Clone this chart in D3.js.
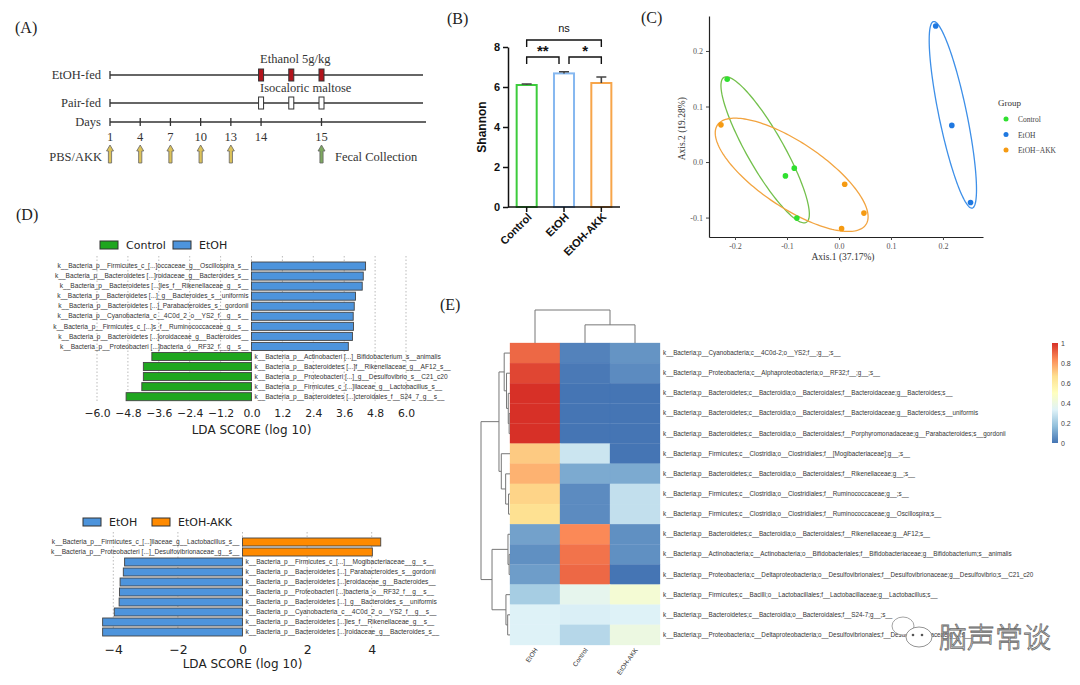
<!DOCTYPE html>
<html>
<head>
<meta charset="utf-8">
<script src="https://cdn.jsdelivr.net/npm/d3@7"></script>
<style>
    body { margin: 0; background: #fff; }
    svg { display: block; }
</style>
</head>
<body>
<div id="container"></div>
<script>
// ---------- data ----------
// (A) timeline
const daySlots = ['1', '4', '7', '10', '13', '14', '', '15'];
const doseSlots = [5, 6, 7];
const pbsSlots = [0, 1, 2, 3, 4];
const fecalSlot = 7;

// (B) shannon
const groups = ['Control', 'EtOH', 'EtOH-AKK'];
const shannonMean = [6.1, 6.68, 6.2];
const shannonErr = [0.05, 0.08, 0.3];
// [from, to, label, bracket level]
const sigTests = [[0, 2, 'ns', 8.35], [0, 1, '**', 7.5], [1, 2, '*', 7.5]];

// (C) PCoA
const pcoaGroup = ['Control', 'Control', 'Control', 'Control', 'EtOH', 'EtOH', 'EtOH', 'EtOH-AKK', 'EtOH-AKK', 'EtOH-AKK', 'EtOH-AKK'];
const pcoaX = [-0.215, -0.103, -0.086, -0.081, 0.186, 0.217, 0.253, -0.227, 0.011, 0.048, 0.005];
const pcoaY = [0.149, -0.025, -0.011, -0.101, 0.245, 0.066, -0.073, 0.067, -0.040, -0.092, -0.120];
const ellCx = [-0.142, 0.219, -0.091];
const ellCy = [0.022, 0.085, -0.023];
const ellHx = [0.085, 0.0455, 0.147];
const ellHy = [0.1315, 0.168, 0.102];
const ellRho = [-0.88, -0.80, -0.74];

// (D) LEfSe, top: Control vs EtOH
const ldaTopLabels = [
    'k__Bacteria_p__Firmicutes_c_[...]occaceae_g__Oscillospira_s__',
    'k__Bacteria_p__Bacteroidetes [...]roidaceae_g__Bacteroides_s__',
    'k__Bacteria_p__Bacteroidetes [...]les_f__Rikenellaceae_g__s__',
    'k__Bacteria_p__Bacteroidetes [...]_g__Bacteroides_s__uniformis',
    'k__Bacteria_p__Bacteroidetes [...]_Parabacteroides_s__gordonii',
    'k__Bacteria_p__Cyanobacteria_c__4C0d_2_o__YS2_f__g__s__',
    'k__Bacteria_p__Firmicutes_c_[...]s_f__Ruminococcaceae_g__s__',
    'k__Bacteria_p__Bacteroidetes [...]oroidaceae_g__Bacteroides__',
    'k__Bacteria_p__Proteobacteri [...]bacteria_o__RF32_f__g__s__',
    'k__Bacteria_p__Actinobacteri [...]_Bifidobacterium_s__animalis',
    'k__Bacteria_p__Bacteroidetes [...]f__Rikenellaceae_g__AF12_s__',
    'k__Bacteria_p__Proteobacteri [...]_g__Desulfovibrio_s__C21_c20',
    'k__Bacteria_p__Firmicutes_c_[...]llaceae_g__Lactobacillus_s__',
    'k__Bacteria_p__Bacteroidetes [...]cteroidales_f__S24_7_g__s__'
];
const ldaTopScores = [4.43, 4.34, 4.30, 4.04, 3.99, 3.95, 3.96, 3.92, 3.76, -3.87, -4.20, -4.20, -4.26, -4.87];
const ldaTopGroups = ['Control', 'EtOH'];
const ldaTopTicks = [-6.0, -4.8, -3.6, -2.4, -1.2, 0.0, 1.2, 2.4, 3.6, 4.8, 6.0];

// (D) LEfSe, bottom: EtOH vs EtOH-AKK
const ldaBotLabels = [
    'k__Bacteria_p__Firmicutes_c_[...]llaceae_g__Lactobacillus_s__',
    'k__Bacteria_p__Proteobacteri [...]_Desulfovibrionaceae_g__s__',
    'k__Bacteria_p__Firmicutes_c_[...]__Mogibacteriaceae__g__s__',
    'k__Bacteria_p__Bacteroidetes [...]_Parabacteroides_s__gordonii',
    'k__Bacteria_p__Bacteroidetes [...]eroidaceae_g__Bacteroides__',
    'k__Bacteria_p__Proteobacteri [...]bacteria_o__RF32_f__g__s__',
    'k__Bacteria_p__Bacteroidetes [...]_g__Bacteroides_s__uniformis',
    'k__Bacteria_p__Cyanobacteria_c__4C0d_2_o__YS2_f__g__s__',
    'k__Bacteria_p__Bacteroidetes [...]les_f__Rikenellaceae_g__s__',
    'k__Bacteria_p__Bacteroidetes [...]roidaceae_g__Bacteroides_s__'
];
const ldaBotScores = [4.28, 4.02, -3.65, -3.69, -3.79, -3.81, -3.82, -3.97, -4.33, -4.33];
const ldaBotGroups = ['EtOH', 'EtOH-AKK'];
const ldaBotTicks = [-4, -2, 0, 2, 4];

// (E) heatmap
const heatCols = ['EtOH', 'Control', 'EtOH-AKK'];
const heatRows = [
    'k__Bacteria;p__Cyanobacteria;c__4C0d-2;o__YS2;f__;g__;s__',
    'k__Bacteria;p__Proteobacteria;c__Alphaproteobacteria;o__RF32;f__;g__;s__',
    'k__Bacteria;p__Bacteroidetes;c__Bacteroidia;o__Bacteroidales;f__Bacteroidaceae;g__Bacteroides;s__',
    'k__Bacteria;p__Bacteroidetes;c__Bacteroidia;o__Bacteroidales;f__Bacteroidaceae;g__Bacteroides;s__uniformis',
    'k__Bacteria;p__Bacteroidetes;c__Bacteroidia;o__Bacteroidales;f__Porphyromonadaceae;g__Parabacteroides;s__gordonii',
    'k__Bacteria;p__Firmicutes;c__Clostridia;o__Clostridiales;f__[Mogibacteriaceae];g__;s__',
    'k__Bacteria;p__Bacteroidetes;c__Bacteroidia;o__Bacteroidales;f__Rikenellaceae;g__;s__',
    'k__Bacteria;p__Firmicutes;c__Clostridia;o__Clostridiales;f__Ruminococcaceae;g__;s__',
    'k__Bacteria;p__Firmicutes;c__Clostridia;o__Clostridiales;f__Ruminococcaceae;g__Oscillospira;s__',
    'k__Bacteria;p__Bacteroidetes;c__Bacteroidia;o__Bacteroidales;f__Rikenellaceae;g__AF12;s__',
    'k__Bacteria;p__Actinobacteria;c__Actinobacteria;o__Bifidobacteriales;f__Bifidobacteriaceae;g__Bifidobacterium;s__animalis',
    'k__Bacteria;p__Proteobacteria;c__Deltaproteobacteria;o__Desulfovibrionales;f__Desulfovibrionaceae;g__Desulfovibrio;s__C21_c20',
    'k__Bacteria;p__Firmicutes;c__Bacilli;o__Lactobacillales;f__Lactobacillaceae;g__Lactobacillus;s__',
    'k__Bacteria;p__Bacteroidetes;c__Bacteroidia;o__Bacteroidales;f__S24-7;g__;s__',
    'k__Bacteria;p__Proteobacteria;c__Deltaproteobacteria;o__Desulfovibrionales;f__Desulfovibrionaceae;g__;s__'
];
const heatValues = [
    [0.90, 0.03, 0.07],
    [0.96, 0.01, 0.05],
    [1.00, 0.00, 0.00],
    [1.00, 0.00, 0.00],
    [1.00, 0.00, 0.00],
    [0.71, 0.29, 0.00],
    [0.76, 0.12, 0.12],
    [0.69, 0.05, 0.27],
    [0.66, 0.05, 0.27],
    [0.10, 0.84, 0.06],
    [0.06, 0.88, 0.06],
    [0.09, 0.90, 0.00],
    [0.21, 0.365, 0.44],
    [0.33, 0.32, 0.33],
    [0.33, 0.245, 0.40]
];
// [height, left, right]
const rowTree = [1.0,
    [0.38,
        [0.2, 0, [0.12, 1, [0.06, 2, [0.03, 3, 4]]]],
        [0.3, 5, [0.15, 6, [0.05, 7, 8]]]],
    [0.62,
        [0.07, 9, [0.03, 10, 11]],
        [0.14, 12, [0.08, 13, 14]]]];
const colTree = [1.0, 0, [0.55, 1, 2]];
const legendTicks = [0, 0.2, 0.4, 0.6, 0.8, 1];

// ---------- drawing ----------
const serif = '"Liberation Serif", "Times New Roman", serif';
const sans = '"Liberation Sans", Arial, sans-serif';
const dejavu = '"DejaVu Sans", sans-serif';

const svg = d3.select('#container')
    .append('svg')
    .attr('width', 1080)
    .attr('height', 685);

function panelLabel(txt, x, y) {
    svg.append('text')
        .attr('x', x).attr('y', y)
        .attr('font-family', serif)
        .attr('font-size', 16)
        .attr('fill', '#222')
        .text(txt);
}
panelLabel('(A)', 15, 33);
panelLabel('(B)', 447, 24);
panelLabel('(C)', 641, 23);
panelLabel('(D)', 16, 220);
panelLabel('(E)', 440, 310);

// ===== (A) =====
const gA = svg.append('g');
const slot = d3.scaleLinear().domain([0, 7]).range([110, 321.5]);
const txtA = (t, x, y, anchor) => gA.append('text')
    .attr('x', x).attr('y', y)
    .attr('text-anchor', anchor || 'start')
    .attr('font-family', serif)
    .attr('font-size', 12.5)
    .attr('fill', '#333')
    .text(t);

[{ name: 'EtOH-fed', y: 75, fill: '#b3141c' }, { name: 'Pair-fed', y: 103, fill: '#fff' }].forEach(r => {
    txtA(r.name, 101, r.y + 4, 'end');
    gA.append('line')
        .attr('x1', slot(0)).attr('x2', slot(10.36))
        .attr('y1', r.y).attr('y2', r.y)
        .attr('stroke', '#333').attr('stroke-width', 1.3);
    gA.append('line')
        .attr('x1', slot(0)).attr('x2', slot(0))
        .attr('y1', r.y - 4).attr('y2', r.y + 4)
        .attr('stroke', '#333').attr('stroke-width', 1.3);
    gA.selectAll(null)
        .data(doseSlots)
        .enter()
        .append('rect')
        .attr('x', d => slot(d) - 2.5)
        .attr('y', r.y - 6)
        .attr('width', 5)
        .attr('height', 12)
        .attr('fill', r.fill)
        .attr('stroke', '#333')
        .attr('stroke-width', 1);
});
txtA('Ethanol 5g/kg', slot(5) - 1, 63);
txtA('Isocaloric maltose', slot(5) - 1, 92);

// days axis
txtA('Days', 101, 126, 'end');
gA.append('line')
    .attr('x1', slot(0)).attr('x2', slot(10.46))
    .attr('y1', 122).attr('y2', 122)
    .attr('stroke', '#333').attr('stroke-width', 1.3);
daySlots.forEach((d, i) => {
    if (!d) return;
    gA.append('line')
        .attr('x1', slot(i)).attr('x2', slot(i))
        .attr('y1', 118).attr('y2', 126)
        .attr('stroke', '#333').attr('stroke-width', 1.3);
    txtA(d, slot(i), 141, 'middle');
});

// arrows
function arrow(x, fill) {
    const p = d3.path();
    p.moveTo(x, 145);
    p.lineTo(x + 3.5, 151);
    p.lineTo(x + 1.6, 151);
    p.lineTo(x + 1.6, 163);
    p.lineTo(x - 1.6, 163);
    p.lineTo(x - 1.6, 151);
    p.lineTo(x - 3.5, 151);
    p.closePath();
    gA.append('path')
        .attr('d', p.toString())
        .attr('fill', fill)
        .attr('stroke', '#666')
        .attr('stroke-width', 0.8);
}
pbsSlots.forEach(s => arrow(slot(s), '#dcc25a'));
arrow(slot(fecalSlot), '#7ea860');
txtA('PBS/AKK', 102, 161, 'end');
txtA('Fecal Collection', 335, 161);

// ===== (B) =====
const gB = svg.append('g');
const xB = d3.scaleBand().domain(groups).range([508, 620]).paddingInner(0.41).paddingOuter(0.205);
const yB = d3.scaleLinear().domain([0, 8]).range([207, 47]);
const colB = ['#3ccc3c', '#86b8f0', '#f7a54a'];

gB.selectAll('.bar')
    .data(groups)
    .enter()
    .append('rect')
    .attr('x', d => xB(d) + 1)
    .attr('y', (d, i) => yB(shannonMean[i]))
    .attr('width', xB.bandwidth() - 2)
    .attr('height', (d, i) => yB(0) - yB(shannonMean[i]))
    .attr('fill', '#fff')
    .attr('stroke', (d, i) => colB[i])
    .attr('stroke-width', 2);
groups.forEach((g, i) => {
    const cx = xB(g) + xB.bandwidth() / 2;
    gB.append('path')
        .attr('d', `M${cx},${yB(shannonMean[i])}V${yB(shannonMean[i] + shannonErr[i])}M${cx - 5},${yB(shannonMean[i] + shannonErr[i])}H${cx + 5}`)
        .attr('stroke', '#444')
        .attr('stroke-width', 1.6)
        .attr('fill', 'none');
});

const axB = gB.append('g')
    .attr('transform', 'translate(508,0)')
    .call(d3.axisLeft(yB).tickValues([0, 2, 4, 6, 8]).tickSize(5).tickSizeOuter(0));
axB.selectAll('text').attr('font-family', sans).attr('font-weight', 'bold').attr('font-size', 11).attr('fill', '#111');
axB.selectAll('line, path').attr('stroke', '#111').attr('stroke-width', 1.5);

const axBx = gB.append('g')
    .attr('transform', 'translate(0,207)')
    .call(d3.axisBottom(xB).tickSize(5).tickSizeOuter(0));
axBx.select('.domain').attr('d', 'M508,0H620');
axBx.selectAll('line, path').attr('stroke', '#111').attr('stroke-width', 1.5);
axBx.selectAll('text')
    .attr('font-family', sans).attr('font-weight', 'bold').attr('font-size', 11).attr('fill', '#111')
    .attr('text-anchor', 'end')
    .attr('transform', 'translate(3,8) rotate(-45)')
    .attr('dy', '0.35em').attr('y', 0);

gB.append('text')
    .attr('transform', `translate(486,${yB(4)}) rotate(-90)`)
    .attr('text-anchor', 'middle')
    .attr('font-family', sans).attr('font-weight', 'bold').attr('font-size', 12)
    .attr('fill', '#111')
    .text('Shannon');

sigTests.forEach(t => {
    const x1 = xB(groups[t[0]]) + xB.bandwidth() / 2 + (t[1] - t[0] === 1 && t[0] === 1 ? 5 : 0);
    const x2 = xB(groups[t[1]]) + xB.bandwidth() / 2 - (t[1] - t[0] === 1 && t[0] === 0 ? 5 : 0);
    const yb = yB(t[3]), yl = yB(t[3] - 0.35);
    gB.append('path')
        .attr('d', `M${x1},${yl}V${yb}H${x2}V${yl}`)
        .attr('fill', 'none').attr('stroke', '#111').attr('stroke-width', 1.4);
    const isNs = t[2] === 'ns';
    gB.append('text')
        .attr('x', (x1 + x2) / 2)
        .attr('y', isNs ? yb - 8 : yb - 1)
        .attr('text-anchor', 'middle')
        .attr('font-family', sans)
        .attr('font-weight', isNs ? 'normal' : 'bold')
        .attr('font-size', isNs ? 11 : 15)
        .attr('fill', '#111')
        .text(t[2]);
});

// ===== (C) =====
const gC = svg.append('g');
const xC = d3.scaleLinear().domain([-0.25, 0.277]).range([709, 983]);
const yC = d3.scaleLinear().domain([-0.135, 0.263]).range([237, 16]);
const cGroups = ['Control', 'EtOH', 'EtOH-AKK'];
const ptCol = d3.scaleOrdinal().domain(cGroups).range(['#2fe02f', '#1f78e0', '#f59a12']);
const ellCol = ['#73c04c', '#3d8fe8', '#f2a440'];
const fmtC = v => d3.format('.1f')(v).replace('−', '-');

const axCx = gC.append('g').attr('transform', 'translate(0,237)')
    .call(d3.axisBottom(xC).tickValues([-0.2, -0.1, 0, 0.1, 0.2]).tickFormat(fmtC).tickSize(3).tickSizeOuter(0));
const axCy = gC.append('g').attr('transform', 'translate(709,0)')
    .call(d3.axisLeft(yC).tickValues([-0.1, 0, 0.1, 0.2]).tickFormat(fmtC).tickSize(3).tickSizeOuter(0));
[axCx, axCy].forEach(a => {
    a.select('.domain').attr('stroke', '#222').attr('stroke-width', 1.2);
    a.selectAll('.tick line').attr('stroke', '#444');
    a.selectAll('text').attr('font-family', serif).attr('font-size', 8).attr('fill', '#555');
});
gC.append('text')
    .attr('x', 843).attr('y', 260)
    .attr('text-anchor', 'middle')
    .attr('font-family', serif).attr('font-size', 9.5).attr('fill', '#333')
    .text('Axis.1 (37.17%)');
gC.append('text')
    .attr('transform', `translate(685,${yC(0.06)}) rotate(-90)`)
    .attr('text-anchor', 'middle')
    .attr('font-family', serif).attr('font-size', 9.5).attr('fill', '#333')
    .text('Axis.2 (19.28%)');

// confidence ellipses (centre, half ranges, correlation)
const tt = d3.range(0, 2 * Math.PI + 0.01, Math.PI / 90);
const ellLine = d3.line().x(d => xC(d[0])).y(d => yC(d[1]));
cGroups.forEach((g, k) => {
    const th = Math.acos(ellRho[k]);
    const pts = tt.map(t => [ellCx[k] + ellHx[k] * Math.cos(t), ellCy[k] + ellHy[k] * Math.cos(t - th)]);
    gC.append('path')
        .attr('d', ellLine(pts))
        .attr('fill', 'none')
        .attr('stroke', ellCol[k])
        .attr('stroke-width', 1.3);
});
gC.selectAll('.pt')
    .data(pcoaX)
    .enter()
    .append('circle')
    .attr('cx', d => xC(d))
    .attr('cy', (d, i) => yC(pcoaY[i]))
    .attr('r', 2.8)
    .attr('fill', (d, i) => ptCol(pcoaGroup[i]));

gC.append('text')
    .attr('x', 998).attr('y', 106)
    .attr('font-family', serif).attr('font-size', 9).attr('fill', '#333')
    .text('Group');
cGroups.forEach((g, i) => {
    gC.append('circle')
        .attr('cx', 1006).attr('cy', 119 + i * 15.5)
        .attr('r', 2.5).attr('fill', ptCol(g));
    gC.append('text')
        .attr('x', 1018).attr('y', 122 + i * 15.5)
        .attr('font-family', serif).attr('font-size', 7.5).attr('fill', '#444')
        .text(g.replace('-', '\u2212'));
});

// ===== (D) =====
function ldaPanel(opt) {
    const g = svg.append('g');
    const x = d3.scaleLinear().domain(opt.domain).range(opt.range);
    const y = d3.scaleBand().domain(d3.range(opt.labels.length)).range(opt.yRange).paddingInner(0.2).paddingOuter(0.1);

    g.selectAll('.grid')
        .data(opt.ticks)
        .enter()
        .append('line')
        .attr('x1', d => x(d)).attr('x2', d => x(d))
        .attr('y1', opt.gridTop).attr('y2', opt.yRange[1])
        .attr('stroke', '#aaa')
        .attr('stroke-width', 0.8)
        .attr('stroke-dasharray', '1.5,2');

    g.selectAll('.bar')
        .data(opt.scores)
        .enter()
        .append('rect')
        .attr('x', d => x(Math.min(0, d)))
        .attr('y', (d, i) => y(i))
        .attr('width', d => Math.abs(x(d) - x(0)))
        .attr('height', y.bandwidth())
        .attr('fill', d => d < 0 ? opt.colors[0] : opt.colors[1])
        .attr('stroke', '#444')
        .attr('stroke-width', 0.9);

    g.selectAll('.lab')
        .data(opt.labels)
        .enter()
        .append('text')
        .attr('x', (d, i) => opt.scores[i] < 0 ? x(0) + 3 : x(0) - 3)
        .attr('y', (d, i) => y(i) + y.bandwidth() / 2 + 2.2)
        .attr('text-anchor', (d, i) => opt.scores[i] < 0 ? 'start' : 'end')
        .attr('font-family', sans)
        .attr('font-size', 6.6)
        .attr('fill', '#333')
        .text(d => d);

    const ax = g.append('g')
        .attr('transform', `translate(0,${opt.yRange[1]})`)
        .call(d3.axisBottom(x).tickValues(opt.ticks).tickFormat(opt.fmt).tickSize(0).tickPadding(opt.pad));
    ax.select('.domain').remove();
    ax.selectAll('text').attr('font-family', dejavu).attr('font-size', opt.tickSize).attr('fill', '#222');

    g.append('text')
        .attr('x', x(0)).attr('y', opt.titleY)
        .attr('text-anchor', 'middle')
        .attr('font-family', dejavu).attr('font-size', 12).attr('fill', '#222')
        .text('LDA SCORE (log 10)');

    opt.groups.forEach((name, i) => {
        g.append('rect')
            .attr('x', opt.legX[i]).attr('y', opt.legY - 4)
            .attr('width', 18).attr('height', 8)
            .attr('fill', opt.colors[i]).attr('stroke', '#333').attr('stroke-width', 1);
        g.append('text')
            .attr('x', opt.legX[i] + 26).attr('y', opt.legY + 4)
            .attr('font-family', dejavu).attr('font-size', 11).attr('fill', '#222')
            .text(name);
    });
}

ldaPanel({
    labels: ldaTopLabels, scores: ldaTopScores, groups: ldaTopGroups, ticks: ldaTopTicks,
    colors: ['#1fa61f', '#4d94dc'],
    domain: [-6, 6], range: [97, 406], yRange: [261, 401.7], gridTop: 256,
    fmt: d3.format('.1f'), pad: 8, tickSize: 10.8, titleY: 434,
    legX: [100, 173], legY: 245
});
ldaPanel({
    labels: ldaBotLabels, scores: ldaBotScores, groups: ldaBotGroups, ticks: ldaBotTicks,
    colors: ['#4d94dc', '#ff8a00'],
    domain: [-4, 4], range: [113.3, 371.7], yRange: [537, 637], gridTop: 532,
    fmt: d3.format('d'), pad: 8, tickSize: 12.5, titleY: 668,
    legX: [83, 152], legY: 522
});

// ===== (E) =====
const gE = svg.append('g');
const xE = d3.scaleBand().domain(heatCols).range([510, 660]);
const yE = d3.scaleBand().domain(d3.range(heatRows.length)).range([343, 645]);
const rdylbu = d3.schemeRdYlBu[7].slice().reverse();
const colE = d3.scaleLinear().domain(d3.range(7).map(i => i / 6)).range(rdylbu);

heatValues.forEach((row, r) => {
    gE.selectAll(null)
        .data(row)
        .enter()
        .append('rect')
        .attr('x', (d, c) => xE(heatCols[c]))
        .attr('y', yE(r))
        .attr('width', xE.bandwidth())
        .attr('height', yE.bandwidth())
        .attr('fill', d => colE(d))
        .attr('stroke', d => colE(d))
        .attr('stroke-width', 0.3);
});

gE.selectAll('.rlab')
    .data(heatRows)
    .enter()
    .append('text')
    .attr('x', 663)
    .attr('y', (d, i) => yE(i) + yE.bandwidth() / 2 + 2)
    .attr('font-family', sans)
    .attr('font-size', 6.3)
    .attr('fill', '#333')
    .text(d => d);

gE.selectAll('.clab')
    .data(heatCols)
    .enter()
    .append('text')
    .attr('transform', d => `translate(${xE(d) + xE.bandwidth() / 2 + 3},${650}) rotate(-55)`)
    .attr('text-anchor', 'end')
    .attr('font-family', sans)
    .attr('font-size', 6.5)
    .attr('fill', '#333')
    .text(d => d);

// dendrograms
const rowH = d3.scaleLinear().domain([0, 1]).range([510, 481]);
const colH = d3.scaleLinear().domain([0, 1]).range([343, 310]);
function drawRow(node) {
    if (typeof node === 'number') return { p: yE(node) + yE.bandwidth() / 2, h: 0 };
    const a = drawRow(node[1]), b = drawRow(node[2]);
    const x = rowH(node[0]);
    gE.append('path')
        .attr('d', `M${rowH(a.h)},${a.p}H${x}V${b.p}H${rowH(b.h)}`)
        .attr('fill', 'none').attr('stroke', '#777').attr('stroke-width', 1);
    return { p: (a.p + b.p) / 2, h: node[0] };
}
function drawCol(node) {
    if (typeof node === 'number') return { p: xE(heatCols[node]) + xE.bandwidth() / 2, h: 0 };
    const a = drawCol(node[1]), b = drawCol(node[2]);
    const y = colH(node[0]);
    gE.append('path')
        .attr('d', `M${a.p},${colH(a.h)}V${y}H${b.p}V${colH(b.h)}`)
        .attr('fill', 'none').attr('stroke', '#777').attr('stroke-width', 1);
    return { p: (a.p + b.p) / 2, h: node[0] };
}
drawRow(rowTree);
drawCol(colTree);

// colour key
const grad = svg.append('defs').append('linearGradient')
    .attr('id', 'keyGrad').attr('x1', 0).attr('x2', 0).attr('y1', 1).attr('y2', 0);
rdylbu.forEach((c, i) => grad.append('stop').attr('offset', i / 6).attr('stop-color', c));
const keyY = d3.scaleLinear().domain([0, 1]).range([443, 343]);
gE.append('rect')
    .attr('x', 1052).attr('y', keyY(1))
    .attr('width', 6).attr('height', keyY(0) - keyY(1))
    .attr('fill', 'url(#keyGrad)');
gE.selectAll('.klab')
    .data(legendTicks)
    .enter()
    .append('text')
    .attr('x', 1061)
    .attr('y', d => keyY(d) + 2.5)
    .attr('font-family', sans)
    .attr('font-size', 7)
    .attr('fill', '#444')
    .text(d => d3.format('~g')(d));

// watermark
const wm = svg.append('g');
wm.append('ellipse').attr('cx', 903).attr('cy', 626).attr('rx', 11).attr('ry', 9)
    .attr('fill', '#fff').attr('stroke', '#999').attr('stroke-width', 0.9);
wm.append('ellipse').attr('cx', 919).attr('cy', 637).attr('rx', 13).attr('ry', 10)
    .attr('fill', '#fff').attr('stroke', '#888').attr('stroke-width', 0.9);
[[913, 635], [922, 635]].forEach(p => wm.append('circle')
    .attr('cx', p[0]).attr('cy', p[1]).attr('r', 1.3).attr('fill', '#555'));
wm.append('text')
    .attr('x', 939).attr('y', 648)
    .attr('font-family', '"Noto Sans CJK SC", sans-serif')
    .attr('font-size', 28)
    .attr('font-weight', 300)
    .attr('fill', '#fff')
    .attr('fill-opacity', 0.7)
    .attr('stroke', '#666')
    .attr('stroke-width', 0.8)
    .text('脑声常谈');
</script>
</body>
</html>
